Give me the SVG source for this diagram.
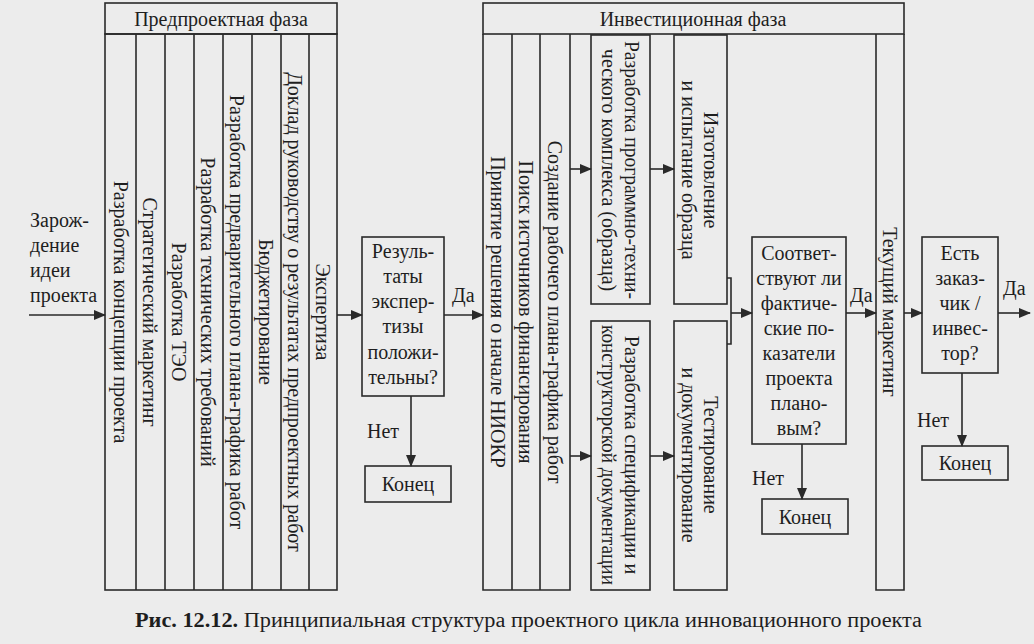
<svg xmlns="http://www.w3.org/2000/svg" width="1034" height="644" viewBox="0 0 1034 644">
<style>
.b{fill:none;stroke:#2a2a2a;stroke-width:1.6}
.t{font-family:"Liberation Serif","DejaVu Serif",serif;font-size:20px;fill:#1e1e1e}
.c{text-anchor:middle}
.v{text-anchor:middle;dominant-baseline:central}
.l{stroke:#2a2a2a;stroke-width:1.6;fill:none}
.a{stroke:#2a2a2a;stroke-width:1.6;fill:none;marker-end:url(#ar)}
</style>
<defs><marker id="ar" markerWidth="12" markerHeight="10" refX="11" refY="5" orient="auto" markerUnits="userSpaceOnUse"><path d="M0,0 L12,5 L0,10 Z" fill="#2a2a2a"/></marker></defs>
<rect width="1034" height="644" fill="#ececec"/>
<g id="start"><text class="t" x="30" y="227">Зарож-</text><text class="t" x="30" y="252">дение</text><text class="t" x="30" y="277">идеи</text><text class="t" x="30" y="302">проекта</text></g>
<g id="preproject">
<rect class="b" x="105" y="3" width="232" height="31"/>
<text class="t c" x="221" y="26">Предпроектная фаза</text>
<rect class="b" x="105" y="34" width="232" height="556"/>
<path class="l" d="M136,34V590M165,34V590M194,34V590M223,34V590M252,34V590M281,34V590M309,34V590"/>
<text class="t v" transform="translate(121,312) rotate(90)">Разработка концепции проекта</text>
<text class="t v" transform="translate(150,312) rotate(90)">Стратегический маркетинг</text>
<text class="t v" transform="translate(179,312) rotate(90)">Разработка ТЭО</text>
<text class="t v" transform="translate(208,312) rotate(90)">Разработка технических требований</text>
<text class="t v" transform="translate(237,312) rotate(90)">Разработка предварительного плана-графика работ</text>
<text class="t v" transform="translate(266,312) rotate(90)">Бюджетирование</text>
<text class="t v" transform="translate(295,312) rotate(90)">Доклад руководству о результатах предпроектных работ</text>
<text class="t v" transform="translate(323,312) rotate(90)">Экспертиза</text>
</g>
<g id="check1"><rect class="b" x="362" y="237" width="82" height="159"/>
<text class="t c" x="403" y="258">Резуль-</text><text class="t c" x="403" y="283">таты</text><text class="t c" x="403" y="308">экспер-</text><text class="t c" x="403" y="333">тизы</text><text class="t c" x="403" y="359">положи-</text><text class="t c" x="403" y="384">тельны?</text></g>
<g id="end1"><rect class="b" x="365" y="466" width="86" height="36"/><text class="t c" x="408" y="491">Конец</text></g>
<g id="invest">
<rect class="b" x="483" y="3" width="421" height="31"/>
<text class="t c" x="693" y="26">Инвестиционная фаза</text>
<path class="l" d="M483,34V590H570V34M512,34V590M540,34V590"/>
<text class="t v" transform="translate(498,312) rotate(90)">Принятие решения о начале НИОКР</text>
<text class="t v" transform="translate(526,312) rotate(90)">Поиск источников финансирования</text>
<text class="t v" transform="translate(555,312) rotate(90)">Создание рабочего плана-графика работ</text>
</g>
<g id="ptk"><rect class="b" x="591" y="35" width="59" height="269"/>
<text class="t v" transform="translate(632,170) rotate(90)" textLength="258" lengthAdjust="spacingAndGlyphs">Разработка программно-техни-</text>
<text class="t v" transform="translate(609,170) rotate(90)">ческого комплекса (образца)</text></g>
<g id="izg"><rect class="b" x="674" y="35" width="53" height="269"/>
<text class="t v" transform="translate(711,170) rotate(90)">Изготовление</text>
<text class="t v" transform="translate(689,170) rotate(90)">и испытание образца</text></g>
<g id="spec"><rect class="b" x="591" y="321" width="59" height="269"/>
<text class="t v" transform="translate(632,455) rotate(90)">Разработка спецификации и</text>
<text class="t v" transform="translate(609,455) rotate(90)" textLength="260" lengthAdjust="spacingAndGlyphs">конструкторской документации</text></g>
<g id="test"><rect class="b" x="674" y="321" width="53" height="269"/>
<text class="t v" transform="translate(711,455) rotate(90)">Тестирование</text>
<text class="t v" transform="translate(689,455) rotate(90)">и документирование</text></g>
<g id="check2"><rect class="b" x="752" y="237" width="94" height="207"/>
<text class="t c" x="799" y="260">Соответ-</text><text class="t c" x="799" y="285">ствуют ли</text><text class="t c" x="799" y="310">фактиче-</text><text class="t c" x="799" y="335">ские по-</text><text class="t c" x="799" y="360">казатели</text><text class="t c" x="799" y="385">проекта</text><text class="t c" x="799" y="410">плано-</text><text class="t c" x="799" y="435">вым?</text></g>
<g id="end2"><rect class="b" x="762" y="499" width="86" height="35"/><text class="t c" x="805" y="524">Конец</text></g>
<g id="market"><path class="l" d="M876,34V590H904V34"/>
<text class="t v" transform="translate(890,312) rotate(90)">Текущий маркетинг</text></g>
<g id="check3"><rect class="b" x="922" y="237" width="76" height="136"/>
<text class="t c" x="960" y="260">Есть</text><text class="t c" x="960" y="285">заказ-</text><text class="t c" x="960" y="310">чик /</text><text class="t c" x="960" y="335">инвес-</text><text class="t c" x="960" y="360">тор?</text></g>
<g id="end3"><rect class="b" x="922" y="446" width="86" height="34"/><text class="t c" x="965" y="470">Конец</text></g>
<g id="connectors">
<path class="a" d="M29,315H105"/>
<path class="a" d="M337,315H362"/>
<path class="a" d="M444,315H483"/>
<path class="a" d="M411,396V466"/>
<path class="a" d="M570,169H591"/>
<path class="a" d="M650,169H674"/>
<path class="a" d="M570,456H591"/>
<path class="a" d="M650,456H674"/>
<path class="l" d="M727,278H731V344H727"/>
<path class="a" d="M731,313H752"/>
<path class="a" d="M846,313H876"/>
<path class="a" d="M802,444V499"/>
<path class="a" d="M904,313H922"/>
<path class="a" d="M998,313H1030"/>
<path class="a" d="M962,373V446"/>
<text class="t" x="452" y="302">Да</text>
<text class="t" x="367" y="438">Нет</text>
<text class="t" x="850" y="302">Да</text>
<text class="t" x="752" y="485">Нет</text>
<text class="t" x="1003" y="295">Да</text>
<text class="t" x="917" y="427">Нет</text>
</g>
<text class="t" x="135" y="627" textLength="787" lengthAdjust="spacingAndGlyphs"><tspan font-weight="bold">Рис. 12.12.</tspan> Принципиальная структура проектного цикла инновационного проекта</text>
</svg>
